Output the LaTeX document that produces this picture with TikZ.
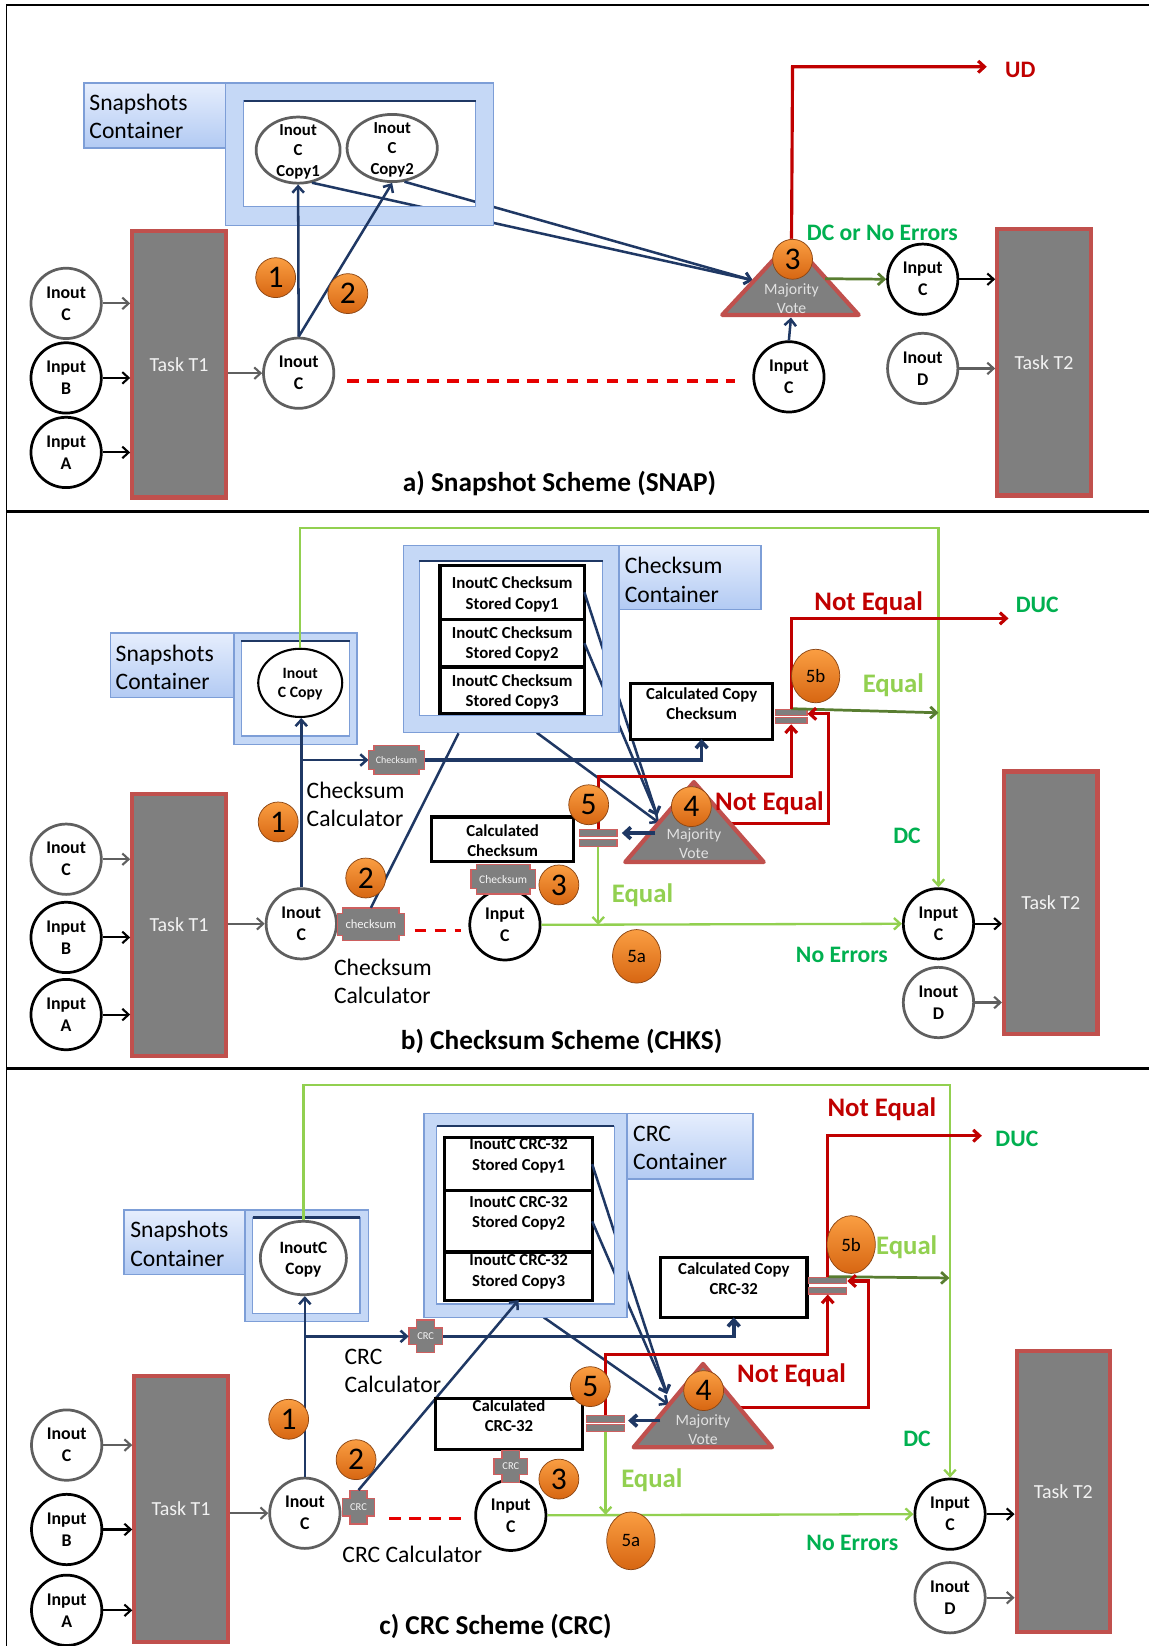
\documentclass[tikz,border=0pt]{standalone}
\usepackage{fontspec}
\setmainfont{Carlito}
\usetikzlibrary{arrows.meta,shapes.geometric}
\definecolor{cnavy}{RGB}{31,56,100}
\definecolor{taskgray}{RGB}{127,127,127}
\definecolor{taskred}{RGB}{192,80,77}
\definecolor{inoutgray}{RGB}{95,95,95}
\definecolor{contfill}{RGB}{197,216,246}
\definecolor{contedge}{RGB}{125,158,215}
\definecolor{labeltop}{RGB}{230,238,253}
\definecolor{labelbot}{RGB}{178,202,243}
\definecolor{badgetop}{RGB}{250,158,66}
\definecolor{badgebot}{RGB}{215,102,18}
\definecolor{badgeedge}{RGB}{140,70,20}
\definecolor{myred}{RGB}{192,0,0}
\definecolor{dcgreen}{RGB}{0,176,80}
\definecolor{eqgreen}{RGB}{146,208,80}
\definecolor{mvtext}{RGB}{225,225,225}
\definecolor{cmpred}{RGB}{205,95,95}
\definecolor{tasktext}{RGB}{242,242,242}
\definecolor{dashred}{RGB}{230,0,0}
\newcommand{\drawcross}[5]{%
  \path[crossst] ({#1-#3+#5},{#2-#4}) -- ({#1+#3-#5},{#2-#4}) -- ({#1+#3-#5},{#2-#4+#5}) -- ({#1+#3},{#2-#4+#5}) -- ({#1+#3},{#2+#4-#5}) -- ({#1+#3-#5},{#2+#4-#5}) -- ({#1+#3-#5},{#2+#4}) -- ({#1-#3+#5},{#2+#4}) -- ({#1-#3+#5},{#2+#4-#5}) -- ({#1-#3},{#2+#4-#5}) -- ({#1-#3},{#2-#4+#5}) -- ({#1-#3+#5},{#2-#4+#5}) -- cycle;}
\tikzset{
 circ/.style={circle, minimum size=67pt, inner sep=0pt, line width=2.6pt, fill=white, align=center, font=\bfseries\fontsize{17}{21}\selectfont},
 gcirc/.style={circ, draw=inoutgray},
 kcirc/.style={circ, draw=black},
 taskbox/.style={rectangle, draw=taskred, fill=taskgray, line width=4pt, text=tasktext, font=\fontsize{19}{22}\selectfont, minimum width=89pt, inner sep=0pt},
 badge/.style={circle, minimum size=38pt, inner sep=0pt, top color=badgetop, bottom color=badgebot, draw=badgeedge, line width=0.7pt, font=\fontsize{30}{30}\selectfont},
 badgeo/.style={ellipse, minimum width=46pt, minimum height=51pt, inner sep=0pt, top color=badgetop, bottom color=badgebot, draw=badgeedge, line width=0.7pt, font=\fontsize{18}{18}\selectfont},
 arr/.style={-{Straight Barb[length=6pt,width=11pt]}},
 navl/.style={draw=cnavy, line width=2.4pt},
 navt/.style={draw=cnavy, line width=3.5pt},
 redl/.style={draw=myred, line width=3pt},
 grnl/.style={draw=eqgreen, line width=2.2pt},
 grnd/.style={draw=eqgreen!60!black, line width=2.6pt},
 dashl/.style={draw=dashred, line width=3pt, dash pattern=on 11pt off 8pt},
 garr/.style={arr, draw=inoutgray, line width=2pt},
 karr/.style={arr, draw=black, line width=2pt},
 lbl/.style={align=left, anchor=west, inner sep=0pt, font=\fontsize{22.5}{27}\selectfont},
 labelbox/.style={draw=contedge, line width=1.2pt, top color=labeltop, bottom color=labelbot},
 contbox/.style={fill=contfill, draw=contedge, line width=1.2pt},
 innerw/.style={fill=white, draw=contedge, line width=1.2pt},
 boxw/.style={rectangle, fill=white, inner sep=0pt},
 boxb/.style={draw=black, line width=3pt},
 boxtxt/.style={align=center, inner sep=0pt, font=\bfseries\fontsize{16}{19.5}\selectfont},
 cmpbar/.style={rectangle, inner sep=0pt, fill=taskgray, draw=cmpred, line width=1.2pt},
 crossst/.style={fill=taskgray, draw=cmpred, line width=1.2pt},
 crosstxt/.style={text=white!92!gray, inner sep=0pt},
 mvtxt/.style={align=center, inner sep=0pt, text=mvtext, font=\fontsize{15}{17.5}\selectfont},
 tri/.style={fill=taskgray, draw=taskred, line width=4pt, line join=round},
 ellip/.style={ellipse, fill=white, line width=2.6pt, inner sep=0pt},
 etxt/.style={align=center, inner sep=0pt, font=\bfseries\fontsize{16}{19.5}\selectfont},
 redtxt/.style={inner sep=0pt, text=myred, font=\bfseries\fontsize{25.5}{28}\selectfont},
 eqtxt/.style={inner sep=0pt, text=eqgreen, font=\bfseries\fontsize{25.5}{28}\selectfont},
 dctxt/.style={inner sep=0pt, text=dcgreen, font=\bfseries\fontsize{22.5}{26}\selectfont},
 captxt/.style={inner sep=0pt, font=\bfseries\fontsize{26}{30}\selectfont},
}
\begin{document}
\begin{tikzpicture}[x=1pt,y=-1pt]
\useasboundingbox (0,0) rectangle (1095,1568);
\fill[white] (0,0) rectangle (1095,1568);
\draw[line width=1.5pt] (6,1568) -- (6,5) -- (1095,5);

% ================= Panel a =================
\path[labelbox] (80,79) rectangle (215,141);
\node[lbl] (aSL) at (85,111) {Snapshots\\Container};
\path[contbox] (215,79) rectangle (470,215);
\path[innerw] (232,96) rectangle (453,197);
\node[ellip, draw=inoutgray, minimum width=80pt, minimum height=63pt] (ac1) at (284,143) {};
\node[etxt] (ac1t) at (284,144.6) {Inout\\C\\Copy1};
\node[ellip, draw=inoutgray, minimum width=86pt, minimum height=64pt] (ac2) at (373.6,141) {};
\node[etxt] (ac2t) at (373.6,142.7) {Inout\\C\\Copy2};
\coordinate (aTin) at (717,267);
\draw[navl, arr] (ac1.-67) -- (aTin);
\draw[navl, arr] (ac2.-70) -- (aTin);
\path[fill=contfill, even odd rule] (215,79) rectangle (470,215) (232,96) rectangle (453,197);
\draw[contedge, line width=1.2pt] (215,79) rectangle (470,215) (232,96) rectangle (453,197);
\draw[cnavy, line width=2pt] (232,96) -- (453,96);

\node[taskbox, minimum height=254pt] (aT1) at (170.5,347) {Task T1};
\node[gcirc] (aL1) at (63,289) {Inout\\C};
\node[kcirc] (aL2) at (63,360) {Input\\B};
\node[kcirc] (aL3) at (63,431) {Input\\A};
\draw[garr] (aL1.east) -- (aL1.east -| aT1.west);
\draw[karr] (aL2.east) -- (aL2.east -| aT1.west);
\draw[karr] (aL3.east) -- (aL3.east -| aT1.west);
\node[gcirc] (aMC) at (284.5,355.5) {Inout\\C};
\draw[garr] (aMC.west -| aT1.east) -- (aMC.west);
\draw[navl, arr] (aMC.north) -- (ac1.south);
\draw[navl, arr] (aMC.north) -- (ac2.south);
\node[badge] (aB1) at (262.6,264.5) {1};
\node[badge] (aB2) at (331.4,279.7) {2};
\coordinate (aD1) at (331,363); \coordinate (aD2) at (700,363);
\draw[dashl] (aD1) -- (aD2);

\coordinate (aTa) at (754,229); \coordinate (aTr) at (818,300); \coordinate (aTl) at (688,300);
\coordinate (aU1) at (755,63.6); \coordinate (aU2) at (940,63.6);
\draw[redl, arr] (aTa) -- (aU1) -- (aU2);
\path[tri] (aTa) -- (aTr) -- (aTl) -- cycle;
\node[mvtxt] (aMV) at (754,284.5) {Majority\\Vote};
\node[badge] (aB3) at (755,247) {3};
\node[redtxt, font=\bfseries\fontsize{22.5}{26}\selectfont] (aUD) at (972,66.7) {UD};
\node[dctxt] (aDC) at (840.6,222) {DC or No Errors};
\node[kcirc] (aICr) at (879,266) {Input\\C};
\coordinate (aG1) at (786,265.5);
\draw[grnd, arr] (aG1) -- (aICr.west);
\node[kcirc] (aIC2) at (751.5,359) {Input\\C};
\coordinate (aTb) at (753.5,302.5);
\draw[navl, arr] (aIC2.north) -- (aTb);
\node[gcirc] (aID) at (879,351) {Inout\\D};
\node[taskbox, minimum height=254pt] (aT2) at (994.5,345) {Task T2};
\draw[karr] (aICr.east) -- (aICr.east -| aT2.west);
\draw[garr] (aID.east) -- (aID.east -| aT2.west);
\node[captxt] (aCap) at (533,461) {a) Snapshot Scheme (SNAP)};

% ================= Panel b =================
\draw[line width=3pt] (6,487) -- (1095,487);
\path[labelbox] (105,603) rectangle (223,664.6);
\node[lbl] (bSL) at (110,636) {Snapshots\\Container};
\path[contbox] (223,603) rectangle (340,709.5);
\path[innerw] (230,611) rectangle (333,701);
\draw[cnavy, line width=2pt] (230,611) -- (333,611);
\node[ellip, draw=black, line width=2pt, minimum width=80pt, minimum height=65pt] (bE) at (286,650.5) {};
\node[etxt, font=\bfseries\fontsize{15}{18}\selectfont] (bEt) at (286,652) {Inout\\C Copy};

\path[labelbox] (589.6,519.4) rectangle (725,580.6);
\node[lbl] (bCL) at (595,552.5) {Checksum\\Container};
\path[contbox] (384.3,519.4) rectangle (589.6,698);
\path[innerw] (399.6,534.6) rectangle (574,681.7);
\node[boxw, minimum width=137.2pt, minimum height=51.5pt] (bb1) at (487.9,564.25) {};
\node[boxw, minimum width=137.2pt, minimum height=45.4pt] (bb2) at (487.9,612.7) {};
\node[boxw, minimum width=137.2pt, minimum height=44.6pt] (bb3) at (487.9,657.7) {};
\node[boxtxt] (bb1t) at (487.9,566.4) {InoutC Checksum\\Stored Copy1};
\node[boxtxt] (bb2t) at (487.9,613.2) {InoutC Checksum\\Stored Copy2};
\node[boxtxt] (bb3t) at (487.9,659.2) {InoutC Checksum\\Stored Copy3};
\foreach \bx in {bb1,bb2,bb3} \draw[boxb] (\bx.north west) rectangle (\bx.south east);
\coordinate (bTin1) at (626,777); \coordinate (bTin2) at (628,784); \coordinate (bC3) at (511.4,698);
\draw[navl, arr] (bb1.east) -- (bTin1);
\draw[navl, arr] (bb2.east) -- (bTin1);
\draw[navl, arr] (bC3) -- (bTin2);
\path[fill=contfill, even odd rule] (384.3,519.4) rectangle (589.6,698) (399.6,534.6) rectangle (574,681.7);
\draw[contedge, line width=1.2pt] (384.3,519.4) rectangle (589.6,698) (399.6,534.6) rectangle (574,681.7);
\draw[cnavy, line width=2pt] (399.6,534.6) -- (574,534.6);

\node[taskbox, minimum height=250pt] (bT1) at (170.5,881) {Task T1};
\node[gcirc] (bL1) at (63,818.5) {Inout\\C};
\node[kcirc] (bL2) at (63,893) {Input\\B};
\node[kcirc] (bL3) at (63,966.5) {Input\\A};
\draw[garr] (bL1.east) -- (bL1.east -| bT1.west);
\draw[karr] (bL2.east) -- (bL2.east -| bT1.west);
\draw[karr] (bL3.east) -- (bL3.east -| bT1.west);
\node[gcirc] (bMC) at (287,880) {Inout\\C};
\draw[garr] (bMC.west -| bT1.east) -- (bMC.west);
\draw[navl, arr] (bMC.north) -- (bMC.north |- bE.south);

\node[boxw, minimum width=134.8pt, minimum height=52.4pt] (bCC) at (668.4,677.7) {};
\draw[boxb] (bCC.north west) rectangle (bCC.south east);
\node[boxtxt] (bCCt) at (668.4,670.3) {Calculated Copy\\Checksum};

\drawcross{377.7}{724}{26.5}{14}{5}
\node[crosstxt, font=\fontsize{9.5}{10}\selectfont, minimum width=53pt, minimum height=28pt] (bcs1) at (377.7,724) {Checksum};
\draw[navl, arr] (bMC.north |- bcs1.west) -- (bcs1.west);
\draw[navt, arr] (bcs1.east) -- (bcs1.east -| bCC.south) -- (bCC.south);
\node[lbl] (bCalc1) at (292,766.5) {Checksum\\Calculator};
\node[badge] (bB1) at (265,783) {1};
\drawcross{353.3}{880.5}{31.7}{15.5}{5}
\node[crosstxt, font=\fontsize{12}{12}\selectfont, minimum width=63pt, minimum height=31pt] (bcs2) at (353.3,880.5) {checksum};
\coordinate (bC2) at (436.8,698.6);
\draw[navl] (bcs2.north) -- (bC2);
\node[badge] (bB2) at (348.4,836.4) {2};
\coordinate (bD1) at (395,886.4); \coordinate (bD2) at (439,886.4);
\draw[dashl] (bD1) -- (bD2);
\node[kcirc] (bIC) at (481,881) {Input\\C};
\node[boxw, minimum width=134.6pt, minimum height=42pt] (bCK) at (478.8,799.5) {};
\draw[boxb] (bCK.north west) rectangle (bCK.south east);
\node[boxtxt] (bCKt) at (478.8,801) {Calculated\\Checksum};
\drawcross{479.3}{837.6}{30.7}{14}{5}
\node[crosstxt, font=\fontsize{11}{11}\selectfont, minimum width=61pt, minimum height=28pt] (bcs3) at (479.3,837.6) {Checksum};
\node[badge] (bB3) at (532.4,843) {3};
\node[lbl] (bCalc2) at (318,935) {Checksum\\Calculator};
\node[captxt] (bCap) at (535,992) {b) Checksum Scheme (CHKS)};

\coordinate (bTa) at (661,745); \coordinate (bTr) at (727.5,821.2); \coordinate (bTl) at (595.6,821.2);
\node[cmpbar, minimum width=30pt, minimum height=6pt] (bU1) at (753.7,678.7) {};
\node[cmpbar, minimum width=30pt, minimum height=5.8pt] (bU2) at (753.7,686.5) {};
\node[cmpbar, minimum width=35.7pt, minimum height=6.3pt] (bK1) at (569.9,793.55) {};
\node[cmpbar, minimum width=35.7pt, minimum height=6.1pt] (bK2) at (569.9,803) {};
\node[kcirc] (bICr) at (894,880) {Input\\C};
\draw[grnl, arr] (bE.north) -- ++(0,-114.3) -| (bICr.north);
\coordinate (bG2) at (894,679);
\draw[grnd, arr] (bU1.north) -- (bG2);
\draw[redl, arr] (bU1.north) -- ++(0,-86) -- ++(207,0);
\draw[redl, arr] (bK1.north) -- ++(0,-50) -| (bU2.south);
\coordinate (bR2) at (695,784.7);
\draw[redl, arr] (bR2) -- (789.4,784.7) -- (789.4,680) -- (bU1.east |- 0,680);
\path[tri] (bTa) -- (bTr) -- (bTl) -- cycle;
\node[mvtxt] (bMV) at (661,803.8) {Majority\\Vote};
\coordinate (bTo) at (624,793.6);
\draw[navt, arr, shorten >=4pt] (bTo) -- (bK1.east |- bTo);
\draw[grnl, arr] (bK2.south) -- (bK2.south |- 0,881);
\draw[grnl, arr] (bIC.east) -- (bICr.west);
\node[gcirc] (bID) at (894,955) {Inout\\D};
\node[taskbox, minimum height=250pt] (bT2) at (1001,860) {Task T2};
\draw[karr] (bICr.east) -- (bICr.east -| bT2.west);
\draw[garr] (bID.east) -- (bID.east -| bT2.west);
\node[redtxt] (bNE1) at (827.5,574.5) {Not Equal};
\node[dctxt] (bDUC) at (988,576) {DUC};
\node[eqtxt] (bEq1) at (851,652.7) {Equal};
\node[badgeo] (bB5b) at (777,644) {5b};
\node[redtxt] (bNE2) at (733,765.6) {Not Equal};
\node[badge] (bB4) at (658.6,768.4) {4};
\node[badge] (bB5) at (560.8,766.6) {5};
\node[eqtxt] (bEq2) at (612,852.7) {Equal};
\node[badgeo] (bB5a) at (606.5,911) {5a};
\node[dctxt] (bDC) at (864,796.3) {DC};
\node[dctxt] (bNoE) at (802,909.5) {No Errors};

% ================= Panel c =================
\draw[line width=3pt] (6,1018) -- (1095,1018);
\path[labelbox] (118,1152.6) rectangle (233.4,1213.9);
\node[lbl] (cSL) at (124,1185) {Snapshots\\Container};
\path[contbox] (233.4,1152.6) rectangle (350.8,1258.8);
\path[innerw] (240.8,1159.8) rectangle (343,1251);
\draw[cnavy, line width=2pt] (240.8,1159.8) -- (343,1159.8);
\node[ellip, draw=inoutgray, minimum width=82pt, minimum height=70pt] (cE) at (289,1198.4) {};
\node[etxt, font=\bfseries\fontsize{16.5}{20}\selectfont] (cEt) at (289,1200) {InoutC\\Copy};

\path[labelbox] (597.2,1061) rectangle (717.4,1123);
\node[lbl] (cCL) at (603,1093.5) {CRC\\Container};
\path[contbox] (404,1061) rectangle (597.2,1254.8);
\path[innerw] (416,1073) rectangle (585.2,1242.1);
\node[boxw, minimum width=139.9pt, minimum height=50.1pt] (cb1) at (493.95,1108.95) {};
\node[boxw, minimum width=139.9pt, minimum height=58.9pt] (cb2) at (493.95,1163.45) {};
\node[boxw, minimum width=139.9pt, minimum height=45.4pt] (cb3) at (493.95,1215.6) {};
\node[boxtxt] (cb1t) at (494,1101.2) {InoutC CRC-32\\Stored Copy1};
\node[boxtxt] (cb2t) at (494,1156) {InoutC CRC-32\\Stored Copy2};
\node[boxtxt] (cb3t) at (494,1211.7) {InoutC CRC-32\\Stored Copy3};
\foreach \bx in {cb1,cb2,cb3} \draw[boxb] (\bx.north west) rectangle (\bx.south east);
\coordinate (cTin1) at (635.4,1327.9); \coordinate (cTin2) at (637,1338); \coordinate (cC3) at (517.8,1254.8);
\draw[navl, arr] (cb1.east) -- (cTin1);
\draw[navl, arr] (cb2.east) -- (cTin1);
\draw[navl, arr] (cC3) -- (cTin2);
\path[fill=contfill, even odd rule] (404,1061) rectangle (597.2,1254.8) (416,1073) rectangle (585.2,1242.1);
\draw[contedge, line width=1.2pt] (404,1061) rectangle (597.2,1254.8) (416,1073) rectangle (585.2,1242.1);
\draw[cnavy, line width=2pt] (416,1073) -- (585.2,1073);

\node[taskbox, minimum height=254pt] (cT1) at (172.5,1437.5) {Task T1};
\node[gcirc] (cL1) at (63.5,1376.6) {Inout\\C};
\node[kcirc] (cL2) at (63.5,1457) {Input\\B};
\node[kcirc] (cL3) at (63.5,1534) {Input\\A};
\draw[garr] (cL1.east) -- (cL1.east -| cT1.west);
\draw[karr] (cL2.east) -- (cL2.east -| cT1.west);
\draw[karr] (cL3.east) -- (cL3.east -| cT1.west);
\node[gcirc] (cMC) at (290.4,1441.5) {Inout\\C};
\draw[garr] (cMC.west -| cT1.east) -- (cMC.west);
\draw[navl, arr] (cMC.north) -- (cMC.north |- cE.south);

\node[boxw, minimum width=139.1pt, minimum height=56.9pt] (cCC) at (698.95,1226.35) {};
\draw[boxb] (cCC.north west) rectangle (cCC.south east);
\node[boxtxt] (cCCt) at (699,1218.25) {Calculated Copy\\CRC-32};

\drawcross{405.5}{1273}{16}{15.5}{7.5}
\node[crosstxt, font=\fontsize{10}{10}\selectfont, minimum width=32pt, minimum height=31pt] (ccr1) at (405.5,1273) {CRC};
\draw[navl, arr] (cMC.north |- ccr1.west) -- (ccr1.west);
\draw[navt, arr] (ccr1.east) -- (ccr1.east -| cCC.south) -- (cCC.south);
\node[lbl] (cCalc1) at (328,1305.75) {CRC\\Calculator};
\node[badge] (cB1) at (275,1352) {1};
\drawcross{341.5}{1435.7}{15.5}{16}{7.5}
\node[crosstxt, font=\fontsize{10}{10}\selectfont, minimum width=31pt, minimum height=32pt] (ccr2) at (341.5,1435.7) {CRC};
\draw[navl, arr] (ccr2.north) -- (cb3.south);
\node[badge] (cB2) at (339.2,1390.5) {2};
\coordinate (cD1) at (371,1446.4); \coordinate (cD2) at (443.6,1446.4);
\draw[dashl] (cD1) -- (cD2);
\node[kcirc] (cIC) at (486.6,1443.5) {Input\\C};
\node[boxw, minimum width=139pt, minimum height=48.1pt] (cCK) at (484.9,1356.55) {};
\draw[boxb] (cCK.north west) rectangle (cCK.south east);
\node[boxtxt] (cCKt) at (484.9,1348.5) {Calculated\\CRC-32};
\draw[boxb] (cCK.north west) -- (cCK.north east);
\drawcross{486.6}{1397}{16}{15}{7.5}
\node[crosstxt, font=\fontsize{10}{10}\selectfont, minimum width=32pt, minimum height=30pt] (ccr3) at (486.6,1397) {CRC};
\node[badge] (cB3) at (532.4,1409) {3};
\node[lbl] (cCalc2) at (326,1481) {CRC Calculator};
\node[captxt] (cCap) at (472,1549.7) {c) CRC Scheme (CRC)};

\coordinate (cTa) at (669.7,1299.3); \coordinate (cTr) at (735.4,1378.7); \coordinate (cTl) at (603.6,1378.7);
\node[cmpbar, minimum width=36pt, minimum height=6.3pt] (cU1) at (788.5,1219.85) {};
\node[cmpbar, minimum width=36pt, minimum height=6.4pt] (cU2) at (788.5,1229.4) {};
\node[cmpbar, minimum width=35.7pt, minimum height=6.5pt] (cK1) at (576.9,1351.75) {};
\node[cmpbar, minimum width=35.7pt, minimum height=6.4pt] (cK2) at (576.9,1360.3) {};
\node[kcirc] (cICr) at (905,1442.4) {Input\\C};
\draw[grnl, arr] (cE.north) -- ++(0,-128.4) -| (cICr.north);
\coordinate (cG2) at (904.4,1217.4);
\draw[grnd, arr] (cU1.north) -- (cG2);
\draw[redl, arr] (cU1.north) -- ++(0,-134.2) -- ++(146.8,0);
\draw[redl, arr] (cK1.north) -- ++(0,-57.2) -| (cU2.south);
\coordinate (cR2) at (704,1340.7);
\draw[redl, arr] (cR2) -- (827.4,1340.7) -- (827.4,1220.3) -- (cU1.east |- 0,1220.3);
\path[tri] (cTa) -- (cTr) -- (cTl) -- cycle;
\node[mvtxt] (cMV) at (669.7,1361.75) {Majority\\Vote};
\coordinate (cTo) at (629,1353.3);
\draw[navt, arr, shorten >=3pt] (cTo) -- (cK1.east |- cTo);
\draw[grnl, arr] (cK2.south) -- (cK2.south |- 0,1443);
\draw[grnl, arr] (cIC.east) -- (cICr.west);
\node[gcirc] (cID) at (905,1522) {Inout\\D};
\node[taskbox, minimum height=268pt] (cT2) at (1013,1421) {Task T2};
\draw[karr] (cICr.east) -- (cICr.east -| cT2.west);
\draw[garr] (cID.east) -- (cID.east -| cT2.west);
\node[redtxt] (cNE1) at (840,1056.5) {Not Equal};
\node[dctxt] (cDUC) at (968.7,1085) {DUC};
\node[badgeo, minimum height=55pt] (cB5b) at (810.8,1185.6) {5b};
\node[eqtxt] (cEq1) at (863.7,1188) {Equal};
\node[redtxt] (cNE2) at (754,1310.4) {Not Equal};
\node[badge] (cB4) at (670.3,1324.7) {4};
\node[badge] (cB5) at (562.3,1320.9) {5};
\node[eqtxt] (cEq2) at (621,1409.7) {Equal};
\node[badgeo, minimum height=55pt] (cB5a) at (601,1467.8) {5a};
\node[dctxt] (cDC) at (873.5,1370.6) {DC};
\node[dctxt] (cNoE) at (812,1469.6) {No Errors};
\end{tikzpicture}
\end{document}
